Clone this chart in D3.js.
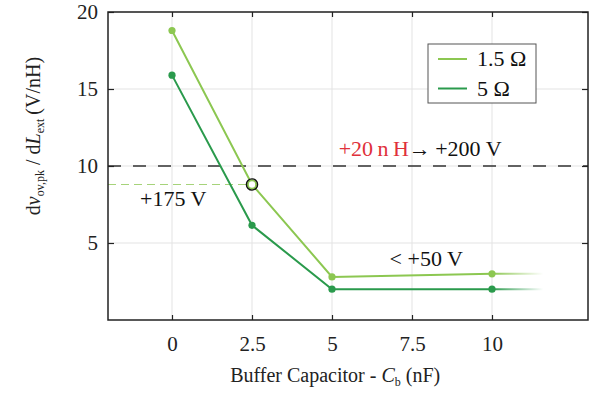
<!DOCTYPE html>
<html>
<head>
<meta charset="utf-8">
<script src="https://cdn.jsdelivr.net/npm/d3@7"></script>
<style>
  body { margin: 0; background: #fff; }
  svg, svg text { font-family: "Liberation Serif", "DejaVu Serif", "Times New Roman", Times, serif; }
</style>
</head>
<body>
<svg id="chart" width="602" height="393"></svg>
<script>
// data
var capacitance = [0, 2.5, 5, 10];
var dvLow = [18.8, 8.8, 2.8, 3.0];     // 1.5 ohm
var dvHigh = [15.9, 6.15, 2.0, 2.0];   // 5 ohm
var tailEnd = 11.6;                     // fade-out end of the lines
var xTicks = [0, 2.5, 5, 7.5, 10];
var yTicks = [5, 10, 15, 20];
var seriesNames = ["1.5 \u03A9", "5 \u03A9"];
var limitLine = 10;      // +200 V at +20 nH
var markPoint = [2.5, 8.8];

var serif = "'Liberation Serif', 'DejaVu Serif', 'Times New Roman', serif";
var colLight = "#8cc751",
    colDark = "#2a9a4c";

var margin = {left: 108, right: 14, top: 12, bottom: 73},
    width = 602 - margin.left - margin.right,
    height = 393 - margin.top - margin.bottom;

var svg = d3.select("#chart").attr("font-family", serif);
var g = svg.append("g")
  .attr("transform", "translate(" + margin.left + "," + margin.top + ")");

var x = d3.scaleLinear().domain([-2, 13]).range([0, width]);
var y = d3.scaleLinear().domain([0, 20]).range([height, 0]);

// grid
g.append("g")
  .selectAll("line")
  .data(xTicks)
  .join("line")
  .attr("x1", d => x(d)).attr("x2", d => x(d))
  .attr("y1", 0).attr("y2", height)
  .attr("stroke", "#e3e3e3").attr("stroke-width", 1);
g.append("g")
  .selectAll("line")
  .data(yTicks)
  .join("line")
  .attr("y1", d => y(d)).attr("y2", d => y(d))
  .attr("x1", 0).attr("x2", width)
  .attr("stroke", "#e3e3e3").attr("stroke-width", 1);

// gradients for fading tails
var defs = svg.append("defs");
function fade(id, color) {
  var lg = defs.append("linearGradient")
    .attr("id", id)
    .attr("gradientUnits", "userSpaceOnUse")
    .attr("x1", x(10)).attr("x2", x(tailEnd))
    .attr("y1", 0).attr("y2", 0);
  lg.append("stop").attr("offset", 0).attr("stop-color", color).attr("stop-opacity", 1);
  lg.append("stop").attr("offset", 1).attr("stop-color", color).attr("stop-opacity", 0);
}
fade("fadeLight", colLight);
fade("fadeDark", colDark);

// reference lines
g.append("line")
  .attr("x1", 0).attr("x2", width)
  .attr("y1", y(limitLine)).attr("y2", y(limitLine))
  .attr("stroke", "#333").attr("stroke-width", 1.5)
  .attr("stroke-dasharray", "13,12");

g.append("line")
  .attr("x1", 0).attr("x2", x(markPoint[0]) - 6)
  .attr("y1", y(markPoint[1])).attr("y2", y(markPoint[1]))
  .attr("stroke", "#a6d37a").attr("stroke-width", 1.2)
  .attr("stroke-dasharray", "8,5");

var line = d3.line().x(d => x(d[0])).y(d => y(d[1]));

function drawSeries(vals, color, fadeId) {
  var pts = capacitance.map((c, i) => [c, vals[i]]);
  var last = pts[pts.length - 1];
  g.append("path")
    .datum([last, [tailEnd, last[1]]])
    .attr("d", line)
    .attr("fill", "none")
    .attr("stroke", "url(#" + fadeId + ")")
    .attr("stroke-width", 2);
  g.append("path")
    .datum(pts)
    .attr("d", line)
    .attr("fill", "none")
    .attr("stroke", color)
    .attr("stroke-width", 2);
  g.append("g")
    .selectAll("circle")
    .data(pts.filter(p => p[0] !== markPoint[0] || color !== colLight))
    .join("circle")
    .attr("cx", d => x(d[0])).attr("cy", d => y(d[1]))
    .attr("r", 3.6)
    .attr("fill", color);
}
drawSeries(dvLow, colLight, "fadeLight");
drawSeries(dvHigh, colDark, "fadeDark");

// highlighted point
g.append("circle")
  .attr("cx", x(markPoint[0])).attr("cy", y(markPoint[1]))
  .attr("r", 4.2)
  .attr("fill", "#fff")
  .attr("stroke", colLight).attr("stroke-width", 2);
g.append("circle")
  .attr("cx", x(markPoint[0])).attr("cy", y(markPoint[1]))
  .attr("r", 5.6)
  .attr("fill", "none")
  .attr("stroke", "#111").attr("stroke-width", 1.4);

// axes, ticks pointing inward
var fmt = d => d3.format("~g")(d);
var axB = g.append("g")
  .attr("transform", "translate(0," + height + ")")
  .call(d3.axisBottom(x).tickValues(xTicks).tickSize(-5).tickPadding(16).tickFormat(fmt));
var axL = g.append("g")
  .call(d3.axisLeft(y).tickValues(yTicks).tickSize(-6).tickPadding(10).tickFormat(fmt));
var axT = g.append("g")
  .call(d3.axisTop(x).tickValues(xTicks).tickSize(-5).tickFormat(""));
var axR = g.append("g")
  .attr("transform", "translate(" + width + ",0)")
  .call(d3.axisRight(y).tickValues(yTicks).tickSize(-6).tickFormat(""));

[axB, axL, axT, axR].forEach(function(a) {
  a.attr("font-family", serif).attr("font-size", 21);
  a.select(".domain").remove();
  a.selectAll(".tick line").attr("stroke", "#222").attr("stroke-width", 1.2);
  a.selectAll(".tick text").attr("fill", "#222");
});

g.append("rect")
  .attr("width", width).attr("height", height)
  .attr("fill", "none")
  .attr("stroke", "#222").attr("stroke-width", 1.5);

// annotations
var ann = g.append("g").attr("font-size", 22).attr("fill", "#111");
var t1 = ann.append("text")
  .attr("x", x(10.3)).attr("y", y(limitLine) - 10)
  .attr("text-anchor", "end");
t1.append("tspan").attr("fill", "#e0303a").text("+20\u2009n\u2009H");
t1.append("tspan").text("\u2192\u2009+200 V");

ann.append("text")
  .attr("x", x(-1)).attr("y", y(markPoint[1]) + 22)
  .text("+175 V");

ann.append("text")
  .attr("x", x(6.8)).attr("y", y(3.0) - 8)
  .text("< +50 V");

// legend
var leg = g.append("g").attr("transform", "translate(" + (428 - margin.left) + "," + (44 - margin.top) + ")");
leg.append("rect")
  .attr("width", 108).attr("height", 59)
  .attr("fill", "#fff")
  .attr("stroke", "#555").attr("stroke-width", 1);
[colLight, colDark].forEach(function(c, i) {
  var yy = 15 + i * 29.5;
  leg.append("line")
    .attr("x1", 10).attr("x2", 39)
    .attr("y1", yy).attr("y2", yy)
    .attr("stroke", c).attr("stroke-width", 2);
  leg.append("text")
    .attr("x", 49).attr("y", yy + 7)
    .attr("font-size", 22)
    .attr("fill", "#111")
    .text(seriesNames[i]);
});

// axis titles
svg.append("text")
  .attr("x", margin.left + x(5.1)).attr("y", 382)
  .attr("text-anchor", "middle")
  .attr("font-size", 20)
  .attr("fill", "#222")
  .call(function(t) {
    t.append("tspan").text("Buffer Capacitor - ");
    t.append("tspan").attr("font-style", "italic").text("C");
    t.append("tspan").attr("dy", 4).attr("font-size", 12).text("b");
    t.append("tspan").attr("dy", -4).text(" (nF)");
  });

svg.append("text")
  .attr("transform", "translate(40,136) rotate(-90)")
  .attr("text-anchor", "middle")
  .attr("font-size", 20)
  .attr("fill", "#222")
  .call(function(t) {
    t.append("tspan").text("d");
    t.append("tspan").attr("font-style", "italic").text("v");
    t.append("tspan").attr("dy", 4).attr("font-size", 12).text("ov,pk");
    t.append("tspan").attr("dy", -4).text(" / d");
    t.append("tspan").attr("font-style", "italic").text("L");
    t.append("tspan").attr("dy", 4).attr("font-size", 12).text("ext");
    t.append("tspan").attr("dy", -4).text("\u2009(V/nH)");
  });
</script>
</body>
</html>
